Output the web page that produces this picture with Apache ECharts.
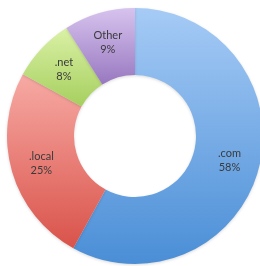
<!DOCTYPE html>
<html>
<head>
<meta charset="utf-8">
<script src="https://cdn.jsdelivr.net/npm/echarts@6/dist/echarts.min.js"></script>
<style>
html, body { margin: 0; padding: 0; background: #fff; }
#main { width: 260px; height: 266px; }
</style>
</head>
<body>
<div id="main"></div>
<script>
var names = ['.com', '.local', '.net', 'Other'];
var values = [58, 25, 8, 9];
var topColors = ['#a6cbf6', '#f7aaa4', '#daf1a6', '#d7c3ee'];
var bottomColors = ['#4a8ed6', '#d9534a', '#a6cf5e', '#9878c0'];

var chart = echarts.init(document.getElementById('main'));

var data = names.map(function (n, i) {
    return {
        name: n,
        value: values[i],
        itemStyle: {
            color: new echarts.graphic.LinearGradient(0, 0, 0, 1, [
                { offset: 0, color: topColors[i] },
                { offset: 1, color: bottomColors[i] }
            ])
        }
    };
});

chart.setOption({
    animation: false,
    series: [{
        type: 'pie',
        center: [135, 136],
        radius: [61, 128],
        startAngle: 90,
        clockwise: true,
        avoidLabelOverlap: false,
        itemStyle: {
            borderWidth: 0,
            shadowColor: 'rgba(0,0,0,0.15)',
            shadowBlur: 3,
            shadowOffsetY: 1
        },
        label: {
            show: true,
            position: 'inside',
            formatter: '{b}\n{c}%',
            color: '#3a3a3a',
            fontFamily: 'Lato',
            fontSize: 11,
            lineHeight: 14
        },
        labelLine: { show: false },
        data: data
    }]
});
</script>
</body>
</html>
